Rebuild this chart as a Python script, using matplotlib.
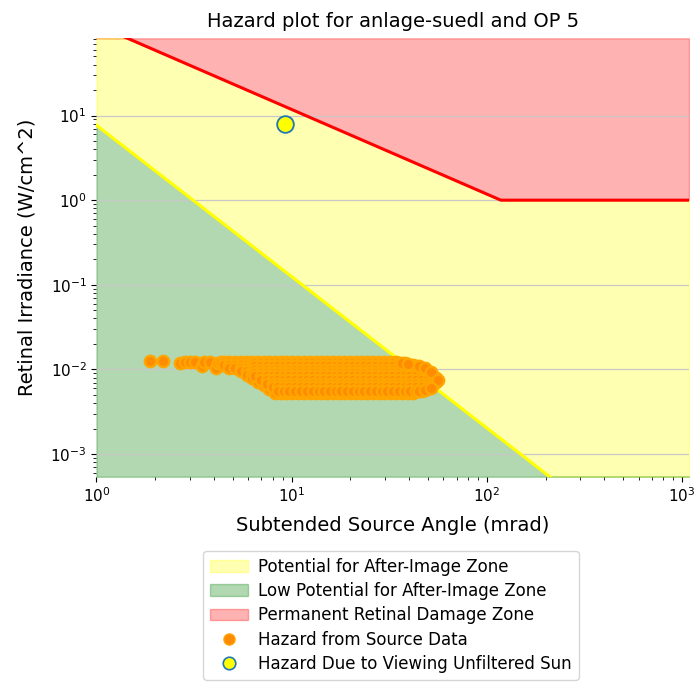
import matplotlib
matplotlib.use("Agg")
import matplotlib.pyplot as plt
import numpy as np
from matplotlib.patches import Patch
from matplotlib.lines import Line2D

# ---- data ----
x_limits = [1.0, 1086.0]
y_limits = [5.4e-4, 81.7]

# boundary of permanent retinal damage (red)
red_x = [1.0, 118.0, 1086.0]
red_y = [118.0, 1.0, 1.0]
# boundary of after-image zone (yellow)
yellow_x = [1.0, 210.0, 1086.0]
yellow_y = [7.67, 5.4e-4, 2.9e-5]

# unfiltered sun
sun_x = [9.3]
sun_y = [7.9]

# hazard from source data (hand read)
# sparse points on the left
src_left_x = [1.88, 2.20, 2.68, 2.85, 3.00, 3.20, 3.46, 3.55, 3.80, 4.10, 4.20, 4.35]
src_left_y = [0.0125, 0.0125, 0.0118, 0.0123, 0.0122, 0.0124, 0.0109, 0.0121, 0.0122, 0.0104, 0.0119, 0.0121]

# dense band: column positions and rows (row level, first and last column)
band_x = [4.5, 4.8, 5.15, 5.5, 5.9, 6.3, 6.75, 7.2, 7.7, 8.25, 8.8, 9.4, 10.1, 10.8,
          11.6, 12.4, 13.3, 14.2, 15.2, 16.3, 17.4, 18.6, 19.9, 21.3, 22.8, 24.4, 26.1,
          28.0, 29.9, 32.0, 34.3, 36.7, 39.3, 42.0, 45.0, 48.1, 51.5, 55.1]
row_y = [0.0123, 0.0114, 0.0104, 0.0095, 0.0087, 0.0079, 0.0072, 0.0065, 0.0059, 0.0053]
row_x_first = [4.5, 4.5, 4.8, 5.5, 5.9, 6.3, 6.75, 7.2, 7.7, 8.25]
row_x_last = [34.3, 42.0, 45.0, 48.1, 51.5, 55.1, 55.1, 51.5, 48.1, 42.0]

# in-between rows (denser interior)
mid_x = [6.5, 7.0, 7.45, 8.0, 8.5, 9.1, 9.75, 10.45, 11.2, 12.0, 12.85, 13.75, 14.7,
         15.75, 16.85, 18.0, 19.25, 20.6, 22.05, 23.6, 25.25, 27.05, 28.95, 30.95,
         33.15, 35.5, 38.0, 40.6, 43.5, 46.5, 49.8, 53.3]
mid_y = [0.0118, 0.0109, 0.0099, 0.0091, 0.0083, 0.0075, 0.0068, 0.0062, 0.0056]
mid_x_first = [6.5, 6.5, 6.5, 6.5, 6.5, 7.0, 7.45, 8.0, 8.5]
mid_x_last = [38.0, 43.5, 46.5, 49.8, 53.3, 53.3, 53.3, 49.8, 46.5]

# extra points shaping the right tip
tip_x = [36.7, 39.3, 45.0, 48.1, 51.5, 56.4, 45.0, 48.1, 51.5]
tip_y = [0.0120, 0.0117, 0.0110, 0.0103, 0.0094, 0.0076, 0.0055, 0.0057, 0.0061]

title = "Hazard plot for anlage-suedl and OP 5"
xlabel = "Subtended Source Angle (mrad)"
ylabel = "Retinal Irradiance (W/cm^2)"
legend_labels = ["Potential for After-Image Zone", "Low Potential for After-Image Zone",
                 "Permanent Retinal Damage Zone", "Hazard from Source Data",
                 "Hazard Due to Viewing Unfiltered Sun"]

# ---- plotting ----
fig = plt.figure(figsize=(6.95, 6.82), dpi=100)
ax = fig.add_axes([0.1388, 0.301, 0.8525, 0.6428])
ax.set_xscale("log")
ax.set_yscale("log")

# fill zones between the boundary lines (fine grid for the shading only)
fx = np.logspace(np.log10(x_limits[0]), np.log10(x_limits[1]), 600)
red_on = np.exp(np.interp(np.log(fx), np.log(red_x), np.log(red_y)))
yel_on = np.exp(np.interp(np.log(fx), np.log(yellow_x), np.log(yellow_y)))
yel_clip = np.clip(yel_on, y_limits[0], y_limits[1])
red_clip = np.clip(red_on, y_limits[0], y_limits[1])

ax.fill_between(fx, red_clip, y_limits[1], color="red", alpha=0.3)
ax.fill_between(fx, yel_clip, red_clip, color="yellow", alpha=0.3)
ax.fill_between(fx, y_limits[0], yel_clip, color="green", alpha=0.3)

ax.plot(red_x, red_y, color="red", lw=2.2)
ax.plot(yellow_x, yellow_y, color="yellow", lw=2.2)

src_x = list(src_left_x)
src_y = list(src_left_y)
for cols, rows, firsts, lasts in [(band_x, row_y, row_x_first, row_x_last),
                                  (mid_x, mid_y, mid_x_first, mid_x_last)]:
    for yv, x0, x1 in zip(rows, firsts, lasts):
        for xv in cols:
            if x0 <= xv <= x1:
                src_x.append(xv)
                src_y.append(yv)
src_x += tip_x
src_y += tip_y

ax.plot(src_x, src_y, linestyle="none", marker="o", markersize=8.2,
        markerfacecolor="darkorange", markeredgecolor="orange", markeredgewidth=1.7, zorder=3)
ax.plot(sun_x, sun_y, linestyle="none", marker="o", markersize=12,
        markerfacecolor="yellow", markeredgecolor="tab:blue", markeredgewidth=1.3, zorder=4)

ax.set_xlim(x_limits)
ax.set_ylim(y_limits)
for s in ax.spines.values():
    s.set_visible(False)
ax.yaxis.grid(True, which="major", color="#c8c8c8", lw=0.9)
ax.tick_params(labelsize=11)

ax.set_title(title, fontsize=14, pad=8)
ax.set_xlabel(xlabel, fontsize=14, labelpad=8)
ax.set_ylabel(ylabel, fontsize=14, labelpad=10)

handles = [
    Patch(facecolor="yellow", edgecolor="yellow", alpha=0.3),
    Patch(facecolor="green", edgecolor="green", alpha=0.3),
    Patch(facecolor="red", edgecolor="red", alpha=0.3),
    Line2D([], [], linestyle="none", marker="o", markersize=8,
           markerfacecolor="darkorange", markeredgecolor="orange"),
    Line2D([], [], linestyle="none", marker="o", markersize=9,
           markerfacecolor="yellow", markeredgecolor="tab:blue", markeredgewidth=1.2),
]
ax.legend(handles, legend_labels, loc="upper center", bbox_to_anchor=(0.497, -0.1505),
          fontsize=12, handlelength=2.3, handletextpad=0.6, labelspacing=0.38)

fig.savefig("out.png", dpi=100)
